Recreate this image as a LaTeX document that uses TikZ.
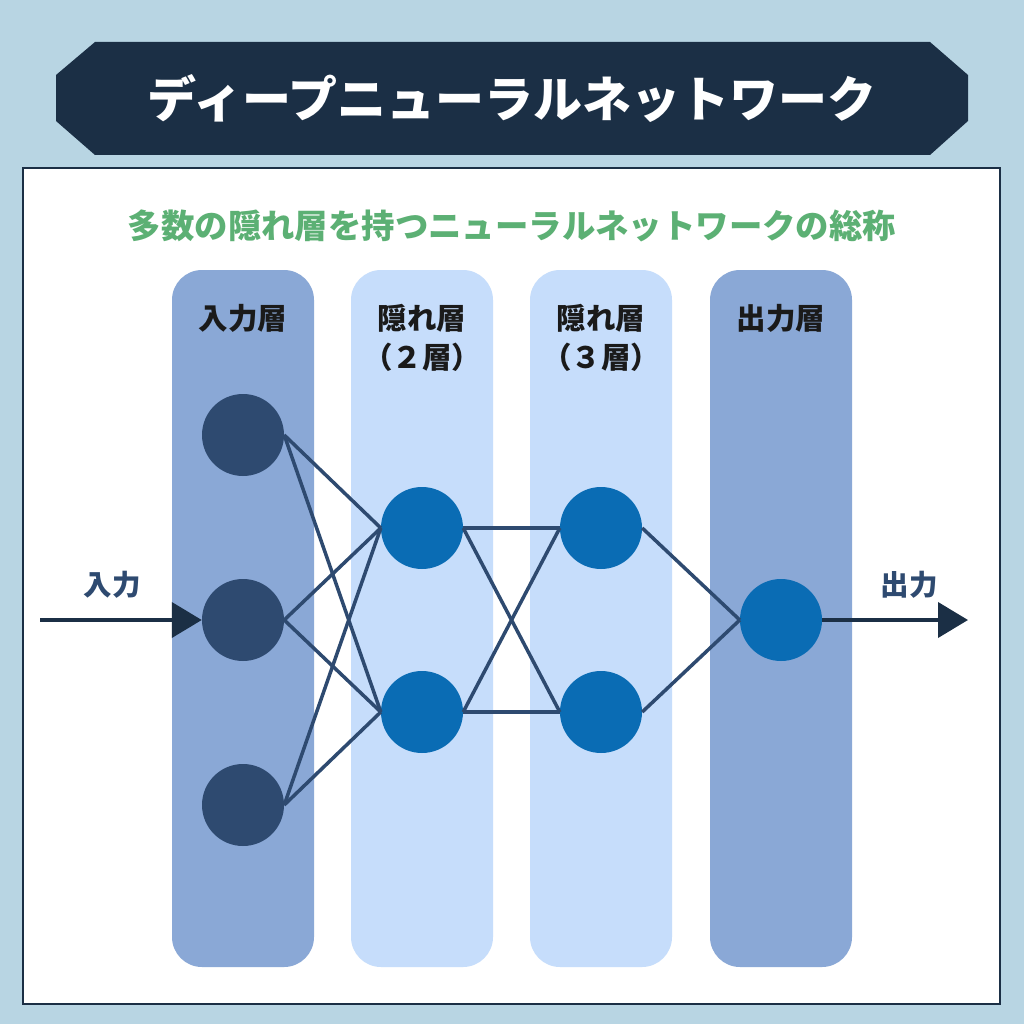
\documentclass[tikz,border=0pt]{standalone}
\usepackage{fontspec}
\setmainfont{Noto Sans CJK JP}
\usepackage{tikz}
\usetikzlibrary{arrows.meta,positioning}
\usepackage{xcolor}
\definecolor{dnbg}{RGB}{184,213,227}
\definecolor{dnnavy}{RGB}{27,47,69}
\definecolor{dngreen}{RGB}{92,176,116}
\definecolor{dnlayer}{RGB}{138,168,214}
\definecolor{dnlightlayer}{RGB}{198,221,251}
\definecolor{dnunit}{RGB}{46,74,112}
\definecolor{dnblue}{RGB}{10,108,180}
\definecolor{dnlabel}{RGB}{26,26,26}
\tikzstyle{layer} = [rectangle, rounded corners=30pt, minimum width=142pt, minimum height=697pt, inner sep=0pt, fill=dnlayer]
\tikzstyle{hiddenlayer} = [layer, fill=dnlightlayer]
\tikzstyle{unit} = [circle, minimum size=82pt, inner sep=0pt, fill=dnunit]
\tikzstyle{hunit} = [unit, fill=dnblue]
\tikzstyle{layerlabel} = [font=\fontsize{29.5}{39}\selectfont\bfseries, text=dnlabel, align=center]
\tikzstyle{io} = [font=\fontsize{28.5}{30}\selectfont\bfseries, text=dnunit]
\tikzstyle{link} = [line width=3.5pt, color=dnunit]
\tikzstyle{flow} = [line width=4pt, color=dnnavy, -{Triangle[length=30pt,width=35pt]}]

\begin{document}
\begin{tikzpicture}[x=1pt, y=-1pt]
% background
\useasboundingbox[fill=dnbg] (0,0) rectangle (1024,1024);

% title banner
\fill[dnnavy] (95,42) -- (930,42) -- (968,75) -- (968,121) -- (930,155) -- (95,155) -- (56,121) -- (56,75) -- cycle;
\node (title) at (512,99) [font=\fontsize{49}{52}\selectfont\bfseries, text=white] {ディープニューラルネットワーク};

% white panel
\node (panel) at (511.5,586) [draw=dnnavy, fill=white, line width=2.5pt, minimum width=977pt, minimum height=836pt, inner sep=0pt] {};
\node (subtitle) at (512,226) [font=\fontsize{33.4}{36}\selectfont\bfseries, text=dngreen] {多数の隠れ層を持つニューラルネットワークの総称};

% layers
\node (incol) [layer] at (243,618.5) {};
\node (h2col) [hiddenlayer] at (422,618.5) {};
\node (h3col) [hiddenlayer] at (601,618.5) {};
\node (outcol) [layer] at (781,618.5) {};

\node (inlab) [layerlabel] at (243,318) {入力層};
\node (h2lab) [layerlabel] at (422,338) {隠れ層\\（２層）};
\node (h3lab) [layerlabel] at (601,338) {隠れ層\\（３層）};
\node (outlab) [layerlabel] at (781,318) {出力層};

% units
\node (i1) [unit] at (243,435) {};
\node (i2) [unit] at (243,620) {};
\node (i3) [unit] at (243,805) {};
\node (a1) [hunit] at (422,528) {};
\node (a2) [hunit] at (422,712) {};
\node (b1) [hunit] at (601,528) {};
\node (b2) [hunit] at (601,712) {};
\node (o1) [hunit] at (781,620) {};

% links
\foreach \s in {i1,i2,i3}
  \foreach \t in {a1,a2}
    \draw[link] (\s.east) -- (\t.west);
\foreach \s in {a1,a2}
  \foreach \t in {b1,b2}
    \draw[link] (\s.east) -- (\t.west);
\foreach \s in {b1,b2}
  \draw[link] (\s.east) -- (o1.west);

% input and output
\coordinate (insrc) at (40,620);
\coordinate (outdst) at (968,620);
\draw[flow] (insrc) -- (i2.west);
\draw[flow] (o1.east) -- (outdst);
\node (inlabel) [io] at (112,585) {入力};
\node (outlabel) [io] at (909,585) {出力};

\end{tikzpicture}
\end{document}
